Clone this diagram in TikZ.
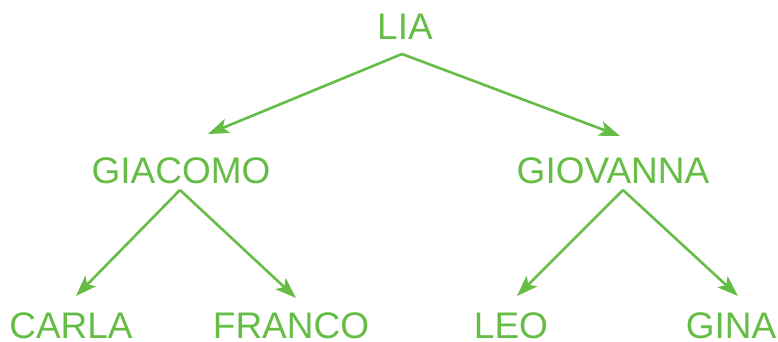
\documentclass[tikz,border=0pt]{standalone}
\usepackage{fontspec}
\setmainfont{Liberation Sans}
\usetikzlibrary{arrows.meta}
\definecolor{tgreen}{RGB}{102,189,70}
\begin{document}
\begin{tikzpicture}[x=1pt,y=1pt,
  lbl/.style={anchor=base,inner sep=0pt,text depth=0pt,text=tgreen,font=\fontsize{37}{40}\selectfont},
  arr/.style={draw=tgreen,line width=2.6pt,-{Stealth[length=21pt,width=15pt,inset=5pt]}}]
\useasboundingbox (0,0) rectangle (778,342);
\node[lbl] (lia) at (405,302) {LIA};
\node[lbl] (giacomo) at (181,158) {GIACOMO};
\node[lbl] (giovanna) at (613,158) {GIOVANNA};
\node[lbl] (carla) at (71,3) {CARLA};
\node[lbl] (franco) at (291,3) {FRANCO};
\node[lbl] (leo) at (511,3) {LEO};
\node[lbl] (gina) at (731,3) {GINA};
\draw[arr] ([shift={(-3,-14)}]lia.base) -- ([shift={(27,50)}]giacomo.base);
\draw[arr] ([shift={(-3,-14)}]lia.base) -- ([shift={(7,48)}]giovanna.base);
\draw[arr] ([shift={(-1,-6)}]giacomo.base) -- ([shift={(5,43)}]carla.base);
\draw[arr] ([shift={(-1,-6)}]giacomo.base) -- ([shift={(5,41)}]franco.base);
\draw[arr] ([shift={(10,-6)}]giovanna.base) -- ([shift={(6,43)}]leo.base);
\draw[arr] ([shift={(10,-6)}]giovanna.base) -- ([shift={(7,43)}]gina.base);
\end{tikzpicture}
\end{document}
